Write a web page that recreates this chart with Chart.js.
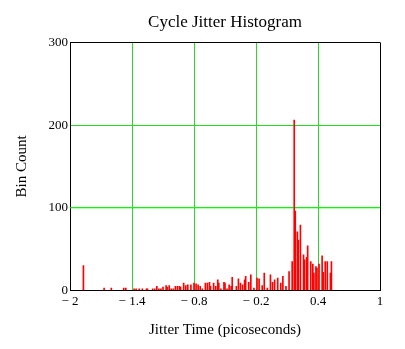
<!DOCTYPE html>
<html>
<head>
<meta charset="utf-8">
<title>Cycle Jitter Histogram</title>
<script src="https://cdn.jsdelivr.net/npm/chart.js@4.4.1/dist/chart.umd.min.js"></script>
<style>
  html, body { margin: 0; padding: 0; background: #fff; }
  canvas { display: block; }
</style>
</head>
<body>
<canvas id="jitterChart" width="405" height="349"></canvas>
<script>
// histogram bins (ps) and how many cycles fell in each
const jitterTimes = [
  -1.87, -1.67, -1.60, -1.48, -1.46, -1.38, -1.36, -1.33, -1.30, -1.26,
  -1.25, -1.20, -1.18, -1.16, -1.14, -1.12, -1.10, -1.07, -1.06, -1.04,
  -1.02, -1.00, -0.98, -0.96, -0.94, -0.93, -0.90, -0.88, -0.86, -0.83,
  -0.80, -0.78, -0.76, -0.74, -0.72, -0.69, -0.67, -0.65, -0.64, -0.61,
  -0.59, -0.57, -0.56, -0.54, -0.51, -0.50, -0.48, -0.46, -0.44, -0.43,
  -0.39, -0.37, -0.35, -0.33, -0.31, -0.30, -0.27, -0.25, -0.22, -0.19,
  -0.17, -0.14, -0.12, -0.09, -0.06, -0.04, -0.02, 0.01, 0.04, 0.06,
  0.09, 0.12, 0.15, 0.17, 0.18, 0.20, 0.21, 0.23, 0.26, 0.27,
  0.29, 0.30, 0.33, 0.35, 0.36, 0.38, 0.39, 0.41, 0.44, 0.45,
  0.47, 0.49, 0.52, 0.53
]
const binCounts = [
  30, 3, 3, 3, 3, 2, 2, 2, 2, 2,
  2, 2, 2, 5, 2, 2, 4, 6, 4, 6,
  2, 2, 5, 5, 5, 4, 9, 6, 7, 7,
  9, 8, 7, 5, 2, 9, 9, 10, 5, 9,
  5, 13, 9, 2, 10, 9, 2, 7, 5, 16,
  5, 14, 9, 7, 13, 17, 10, 19, 3, 15,
  14, 6, 21, 3, 19, 10, 13, 15, 9, 17,
  5, 23, 35, 206, 96, 71, 61, 79, 43, 37,
  40, 54, 35, 32, 21, 29, 27, 32, 42, 22,
  35, 35, 21, 35
]
const xTickValues = [-2, -1.4, -0.8, -0.2, 0.4, 1]
const xTickLabels = ['\u2212 2', '\u2212 1.4', '\u2212 0.8', '\u2212 0.2', '0.4', '1']
const yTickValues = [0, 100, 200, 300]
const limitLevel = 100

const serif = 'Liberation Serif'
const gridGreen = '#22dd22'

var ctx = document.getElementById('jitterChart').getContext('2d');
var jitterChart = new Chart(ctx, {
  type: 'bar',
  data: {
    datasets: [{
      data: jitterTimes.map((t, i) => ({ x: t, y: binCounts[i] })),
      backgroundColor: '#ff0000',
      barThickness: 1,
      order: 0
    }, {
      // reference level across the whole plot
      type: 'line',
      data: [
        { x: xTickValues[0], y: limitLevel },
        { x: xTickValues[xTickValues.length - 1], y: limitLevel }
      ],
      borderColor: '#00ff00',
      borderWidth: 1,
      pointRadius: 0,
      order: 1
    }]
  },
  options: {
    responsive: false,
    animation: false,
    devicePixelRatio: 1,
    layout: { padding: { right: 25 } },
    plugins: {
      legend: { display: false },
      tooltip: { enabled: false },
      title: {
        display: true,
        text: 'Cycle Jitter Histogram',
        color: '#000',
        fullSize: false,
        font: { family: serif, size: 17, weight: 'normal' },
        padding: { top: 12, bottom: 10 }
      }
    },
    scales: {
      x: {
        type: 'linear',
        min: xTickValues[0],
        max: xTickValues[xTickValues.length - 1],
        offset: false,
        afterBuildTicks: s => { s.ticks = xTickValues.map(v => ({ value: v })) },
        afterFit: s => { s.height = 58.5 },
        ticks: {
          callback: (v, i) => xTickLabels[i],
          color: '#000',
          font: { family: serif, size: 13 },
          padding: 3,
          maxRotation: 0,
          autoSkip: false
        },
        grid: {
          color: c => (c.tick && c.tick.value === 1) ? '#000' : gridGreen,
          drawTicks: false,
          offset: false
        },
        border: { color: '#000' },
        title: {
          display: true,
          text: 'Jitter Time (picoseconds)',
          color: '#000',
          font: { family: serif, size: 15 },
          padding: { top: 0, bottom: 10 }
        }
      },
      y: {
        min: yTickValues[0],
        max: yTickValues[yTickValues.length - 1],
        afterBuildTicks: s => { s.ticks = yTickValues.map(v => ({ value: v })) },
        afterFit: s => { s.width = 70 },
        ticks: {
          color: '#000',
          font: { family: serif, size: 13 },
          padding: 2
        },
        grid: {
          color: c => (c.tick && c.tick.value === 300) ? '#000' : gridGreen,
          drawTicks: false
        },
        border: { color: '#000' },
        title: {
          display: true,
          text: 'Bin Count',
          color: '#000',
          font: { family: serif, size: 15 },
          padding: { top: 13, bottom: 0 }
        }
      }
    }
  }
});
</script>
</body>
</html>
